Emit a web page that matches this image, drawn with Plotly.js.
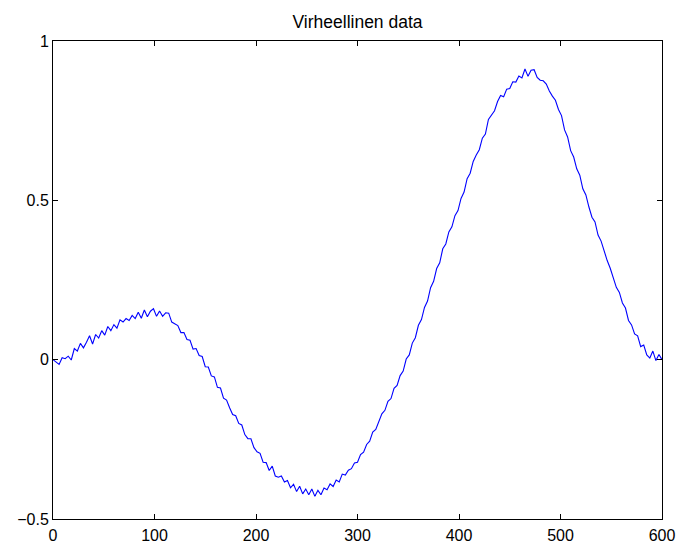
<!DOCTYPE html>
<html>
<head>
<meta charset="utf-8">
<script src="https://cdn.plot.ly/plotly-3.0.1.min.js"></script>
<style>html,body{margin:0;padding:0;background:#fff;}#chart{width:676px;height:544px;}</style>
</head>
<body>
<div id="chart"></div>
<script>
var xValues = [
0,3,6,9,12,15,18,21,24,27,30,33,36,39,42,45,48,51,54,57,
60,63,66,69,72,75,78,81,84,87,90,93,96,99,102,105,108,111,114,117,
120,123,126,129,132,135,138,141,144,147,150,153,156,159,162,165,168,171,174,177,
180,183,186,189,192,195,198,201,204,207,210,213,216,219,222,225,228,231,234,237,
240,243,246,249,252,255,258,261,264,267,270,273,276,279,282,285,288,291,294,297,
300,303,306,309,312,315,318,321,324,327,330,333,336,339,342,345,348,351,354,357,
360,363,366,369,372,375,378,381,384,387,390,393,396,399,402,405,408,411,414,417,
420,423,426,429,432,435,438,441,444,447,450,453,456,459,462,465,468,471,474,477,
480,483,486,489,492,495,498,501,504,507,510,513,516,519,522,525,528,531,534,537,
540,543,546,549,552,555,558,561,564,567,570,573,576,579,582,585,588,591,594,597,
600];
var yValues = [
0.000,-0.007,-0.015,0.006,0.003,0.011,-0.001,0.035,0.027,0.051,0.037,0.055,0.075,0.049,0.079,0.068,0.091,0.077,0.104,0.091,
0.110,0.099,0.125,0.118,0.129,0.123,0.139,0.129,0.149,0.130,0.156,0.135,0.152,0.160,0.136,0.153,0.136,0.147,0.146,0.118,
0.113,0.107,0.085,0.085,0.063,0.061,0.033,0.035,0.013,0.010,-0.022,-0.023,-0.051,-0.054,-0.087,-0.089,-0.121,-0.127,-0.151,-0.172,
-0.176,-0.200,-0.205,-0.235,-0.248,-0.248,-0.276,-0.289,-0.294,-0.322,-0.323,-0.348,-0.334,-0.365,-0.369,-0.365,-0.384,-0.379,-0.402,-0.391,
-0.414,-0.397,-0.421,-0.406,-0.424,-0.406,-0.429,-0.410,-0.424,-0.403,-0.408,-0.390,-0.398,-0.378,-0.384,-0.359,-0.362,-0.347,-0.342,-0.324,
-0.322,-0.298,-0.290,-0.266,-0.256,-0.227,-0.219,-0.192,-0.170,-0.159,-0.131,-0.122,-0.090,-0.081,-0.050,-0.036,0.002,0.015,0.052,0.069,
0.108,0.126,0.164,0.184,0.226,0.246,0.286,0.304,0.348,0.363,0.401,0.417,0.452,0.468,0.506,0.526,0.568,0.585,0.622,0.642,
0.659,0.695,0.708,0.754,0.769,0.781,0.810,0.829,0.825,0.849,0.851,0.872,0.871,0.890,0.884,0.912,0.889,0.908,0.910,0.886,
0.877,0.875,0.865,0.843,0.827,0.814,0.785,0.766,0.721,0.699,0.656,0.636,0.599,0.579,0.536,0.517,0.479,0.447,0.432,0.391,
0.372,0.338,0.311,0.287,0.254,0.227,0.211,0.178,0.162,0.123,0.109,0.081,0.075,0.041,0.046,0.015,0.005,0.027,-0.003,0.016,
0.000];
var xTicks = [0,100,200,300,400,500,600];
var yTicks = [-0.5,0,0.5,1];
var yTickText = ['\u22120.5','0','0.5','1'];
var chartTitle = 'Virheellinen data';

var font = {family: 'Liberation Sans, Arial, Helvetica, sans-serif', size: 16, color: '#000'};
var trace = {x: xValues, y: yValues, type: 'scatter', mode: 'lines',
  line: {color: '#0000ff', width: 1.1}, hoverinfo: 'skip'};
var axisCommon = {showline: true, linecolor: '#000', linewidth: 1, mirror: 'ticks',
  ticks: 'inside', ticklen: 5, tickwidth: 1, tickcolor: '#000', showgrid: false, zeroline: false,
  tickfont: font};
var layout = {
  width: 676, height: 544,
  margin: {l: 53, r: 14, t: 41, b: 25, pad: 0},
  paper_bgcolor: '#fff', plot_bgcolor: '#fff',
  showlegend: false,
  font: font,
  title: {text: chartTitle, font: {family: font.family, size: 17.5, color: '#000'},
    x: 0.5, xref: 'paper', xanchor: 'center', y: 0.96, yref: 'container', yanchor: 'middle'},
  xaxis: Object.assign({}, axisCommon, {range: [0, 600], tickvals: xTicks, ticktext: xTicks.map(String), ticklabelstandoff: 2}),
  yaxis: Object.assign({}, axisCommon, {range: [-0.5, 1], tickvals: yTicks, ticktext: yTickText})
};
Plotly.newPlot('chart', [trace], layout, {displayModeBar: false, staticPlot: true});
</script>
</body>
</html>
